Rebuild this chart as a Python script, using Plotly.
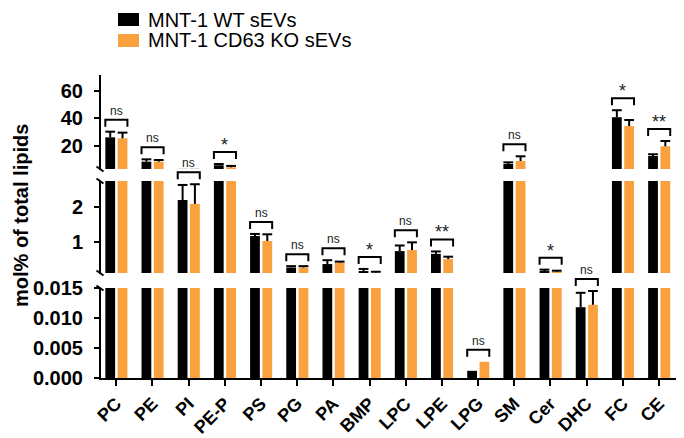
import plotly.graph_objects as go

# ---------------- data ----------------
categories = ["PC", "PE", "PI", "PE-P", "PS", "PG", "PA", "BMP", "LPC", "LPE",
              "LPG", "SM", "Cer", "DHC", "FC", "CE"]
wt_mean = [26.3, 8.6, 2.20, 6.0, 1.17, 0.27, 0.37, 0.17, 0.74, 0.66,
           0.0012, 6.9, 0.17, 0.0118, 40.9, 12.7]
wt_sd = [4.1, 1.7, 0.43, 0.9, 0.06, 0.04, 0.11, 0.06, 0.16, 0.07,
         0.0, 1.2, 0.04, 0.0024, 5.1, 1.3]
ko_mean = [25.6, 8.6, 2.09, 4.5, 1.03, 0.27, 0.41, 0.13, 0.77, 0.51,
           0.0027, 9.1, 0.15, 0.0122, 34.5, 19.8]
ko_sd = [4.1, 1.2, 0.56, 1.0, 0.19, 0.04, 0.03, 0.02, 0.22, 0.07,
         0.0, 3.4, 0.03, 0.0023, 4.4, 3.8]
significance = ["ns", "ns", "ns", "*", "ns", "ns", "ns", "*", "ns", "**",
                "ns", "ns", "*", "ns", "*", "**"]
series_names = ["MNT-1 WT sEVs", "MNT-1 CD63 KO sEVs"]
y_title = "mol% of total lipids"
y_ticks_top = [20, 40, 60]
y_ticks_mid = [1, 2]
y_ticks_bot = [0, 0.005, 0.010, 0.015]
range_top = [3.27, 71.6]
range_mid = [0.114, 2.743]
range_bot = [0, 0.015]

# ---------------- layout constants ----------------
W, H = 684, 438
ML, MR, MT, MB = 101, 8, 75, 60
PW, PH = W - ML - MR, H - MT - MB
X_RANGE = [-0.42, 15.47]
BAR_W = 0.27
OFF_WT, OFF_KO = -0.30, 0.04
C_WT, C_KO = "#000000", "#F9A03F"
FONT = "Arial, Liberation Sans, Helvetica, sans-serif"


def pyd(px):
    """pixel y (from top of page) -> paper y"""
    return (H - MB - px) / PH


def pxd(px):
    """pixel x (from left of page) -> paper x"""
    return (px - ML) / PW


def xp(v):
    return (v - X_RANGE[0]) / (X_RANGE[1] - X_RANGE[0])


segments = [
    dict(ax="y", dom=[pyd(378), pyd(288)], rng=range_bot, ticks=y_ticks_bot, fmt=".3f"),
    dict(ax="y2", dom=[pyd(273), pyd(181)], rng=range_mid, ticks=y_ticks_mid, fmt=""),
    dict(ax="y3", dom=[pyd(169), pyd(75)], rng=range_top, ticks=y_ticks_top, fmt=""),
]


def to_paper(v):
    for s in segments:
        r0, r1 = s["rng"]
        if r0 <= v <= r1:
            d0, d1 = s["dom"]
            return d0 + (v - r0) / (r1 - r0) * (d1 - d0)
    best = None
    for s in segments:
        if v > s["rng"][1]:
            best = s["dom"][1]
    return best if best is not None else 0


n = len(categories)
idx = list(range(n))
fig = go.Figure()

for s in segments:
    for mean, sd, off, col in [(wt_mean, wt_sd, OFF_WT, C_WT), (ko_mean, ko_sd, OFF_KO, C_KO)]:
        fig.add_trace(go.Bar(
            x=idx, y=mean, width=BAR_W, offset=off, yaxis=s["ax"],
            marker=dict(color=col, line=dict(width=0)),
            error_y=dict(type="data", symmetric=False, array=sd, arrayminus=[0] * n,
                         color="black", thickness=2, width=0),
            showlegend=False, hoverinfo="skip"))
        fig.add_trace(go.Scatter(
            x=[i + off + BAR_W / 2 for i in idx],
            y=[m + e if e > 0 else None for m, e in zip(mean, sd)],
            mode="markers", yaxis=s["ax"],
            marker=dict(symbol="line-ew", size=7, line=dict(width=2, color="black")),
            showlegend=False, hoverinfo="skip"))

shapes = []
annotations = []

# significance brackets
GAP, LEG = 5, 7
for i in idx:
    top_v = max(wt_mean[i] + wt_sd[i], ko_mean[i] + ko_sd[i])
    yb = to_paper(top_v) + GAP / PH
    yt = yb + LEG / PH
    x0 = xp(i + OFF_WT)
    x1 = xp(i + OFF_KO + BAR_W)
    shapes.append(dict(type="path", xref="paper", yref="paper",
                       path=f"M{x0},{yb} L{x0},{yt} L{x1},{yt} L{x1},{yb}",
                       line=dict(color="black", width=2)))
    lab = significance[i]
    is_ns = lab == "ns"
    annotations.append(dict(
        x=(x0 + x1) / 2, y=yt, xref="paper", yref="paper", text=lab,
        showarrow=False, xanchor="center", yanchor="bottom",
        yshift=0 if is_ns else -5,
        font=dict(family=FONT, size=12 if is_ns else 18, color="#222")))

# axis break slashes
for s in segments:
    for k, end in enumerate(s["dom"]):
        if (s["ax"] == "y" and k == 0) or (s["ax"] == "y3" and k == 1):
            continue
        cx, cy = pxd(100), end
        shapes.append(dict(type="line", xref="paper", yref="paper",
                           x0=cx - 3.5 / PW, x1=cx + 3.5 / PW,
                           y0=cy + 2.5 / PH, y1=cy - 2.5 / PH,
                           line=dict(color="black", width=2)))

# manual legend
for k, (name, col) in enumerate(zip(series_names, [C_WT, C_KO])):
    top = 13 + k * 21
    shapes.append(dict(type="rect", xref="paper", yref="paper",
                       x0=pxd(118), x1=pxd(139), y0=pyd(top), y1=pyd(top + 13),
                       fillcolor=col, line=dict(width=0)))
    annotations.append(dict(x=pxd(146), y=pyd(top + 6.5), xref="paper", yref="paper",
                            text=name, showarrow=False, xanchor="left", yanchor="middle",
                            font=dict(family=FONT, size=20, color="black")))

# y title
annotations.append(dict(x=pxd(21), y=pyd(216), xref="paper", yref="paper",
                        text=y_title, textangle=-90, showarrow=False,
                        xanchor="center", yanchor="middle",
                        font=dict(family=FONT, size=20, color="black", weight="bold")))

axis_common = dict(showline=True, linewidth=2, linecolor="black", ticks="outside",
                   ticklen=5, tickwidth=2, tickcolor="black", showgrid=False,
                   zeroline=False, anchor="x", ticklabelstandoff=7, automargin=False,
                   tickfont=dict(family=FONT, size=20, color="black", weight="bold"))

layout = dict(
    width=W, height=H, margin=dict(l=ML, r=MR, t=MT, b=MB, autoexpand=False),
    paper_bgcolor="white", plot_bgcolor="white", barmode="overlay",
    showlegend=False, shapes=shapes, annotations=annotations,
    xaxis=dict(range=X_RANGE, tickvals=idx, ticktext=categories, tickangle=-45,
               showline=True, linewidth=2, linecolor="black", ticks="outside",
               ticklen=6, tickwidth=2, tickcolor="black", showgrid=False,
               zeroline=False, automargin=False,
               tickfont=dict(family=FONT, size=18, color="black", weight="bold")),
)
for s in segments:
    key = "yaxis" if s["ax"] == "y" else "yaxis" + s["ax"][1:]
    ax = dict(axis_common, domain=s["dom"], range=s["rng"], tickvals=s["ticks"])
    if s["fmt"]:
        ax["tickformat"] = s["fmt"]
    layout[key] = ax

fig.update_layout(**layout)
fig.write_html("out.html", config={"displayModeBar": False},
               post_script="document.body.style.margin='0';")
